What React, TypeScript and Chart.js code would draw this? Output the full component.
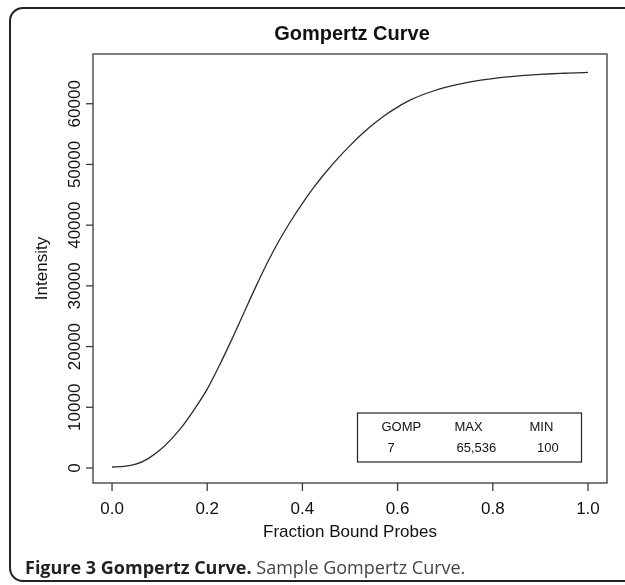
import React, { useEffect, useRef } from "react";
import { Chart, registerables } from "chart.js";

Chart.register(...registerables);

// ---- data ----
const fractionBound = [
  0, 0.025, 0.05, 0.075, 0.1, 0.125, 0.15, 0.175, 0.2, 0.225,
  0.25, 0.275, 0.3, 0.325, 0.35, 0.375, 0.4, 0.425, 0.45, 0.475,
  0.5, 0.525, 0.55, 0.575, 0.6, 0.625, 0.65, 0.675, 0.7, 0.725,
  0.75, 0.775, 0.8, 0.825, 0.85, 0.875, 0.9, 0.925, 0.95, 0.975, 1.0,
];
const intensity = [
  160, 250, 620, 1500, 2900, 4800, 7100, 9900, 13000, 16800,
  20900, 25200, 29500, 33600, 37300, 40600, 43600, 46350, 48800, 51050,
  53100, 55000, 56700, 58200, 59450, 60550, 61400, 62100, 62680, 63150,
  63550, 63880, 64150, 64370, 64560, 64710, 64840, 64940, 65020, 65100, 65160,
];
const xTicks = [0, 0.2, 0.4, 0.6, 0.8, 1.0];
const xTickLabels = ["0.0", "0.2", "0.4", "0.6", "0.8", "1.0"];
const yTicks = [0, 10000, 20000, 30000, 40000, 50000, 60000];
const yTickLabels = ["0", "10000", "20000", "30000", "40000", "50000", "60000"];
const legendHeaders = ["GOMP", "MAX", "MIN"];
const legendValues = ["7", "65,536", "100"];

const chartTitle = "Gompertz Curve";
const xTitle = "Fraction Bound Probes";
const yTitle = "Intensity";

const FONT = '"Liberation Sans", Arial, Helvetica, sans-serif';

const framePlugin = {
  id: "rframe",
  afterDraw(chart: any) {
    const { ctx, chartArea: a, scales } = chart;
    const xs = scales.x;
    const ys = scales.y;
    ctx.save();
    // plot box
    ctx.strokeStyle = "#3a3a3a";
    ctx.lineWidth = 1.3;
    ctx.strokeRect(a.left, a.top, a.right - a.left, a.bottom - a.top);

    ctx.fillStyle = "#111";
    ctx.font = `17px ${FONT}`;
    // y axis ticks + rotated labels
    yTicks.forEach((v, i) => {
      const py = ys.getPixelForValue(v);
      ctx.beginPath();
      ctx.moveTo(a.left - 7, py);
      ctx.lineTo(a.left, py);
      ctx.stroke();
      ctx.save();
      ctx.translate(80, py);
      ctx.rotate(-Math.PI / 2);
      ctx.textAlign = "center";
      ctx.textBaseline = "alphabetic";
      ctx.fillText(yTickLabels[i], 0, 0);
      ctx.restore();
    });
    // x axis ticks + labels
    xTicks.forEach((v, i) => {
      const px = xs.getPixelForValue(v);
      ctx.beginPath();
      ctx.moveTo(px, a.bottom);
      ctx.lineTo(px, a.bottom + 8);
      ctx.stroke();
      ctx.textAlign = "center";
      ctx.textBaseline = "alphabetic";
      ctx.fillText(xTickLabels[i], px, 514);
    });
    // axis titles
    ctx.textAlign = "center";
    ctx.fillText(xTitle, (a.left + a.right) / 2, 537);
    ctx.save();
    ctx.translate(47, (a.top + a.bottom) / 2);
    ctx.rotate(-Math.PI / 2);
    ctx.fillText(yTitle, 0, 0);
    ctx.restore();
    // main title
    ctx.font = `bold 20px ${FONT}`;
    ctx.fillText(chartTitle, (a.left + a.right) / 2 + 2, 40);

    // legend box
    const lr = a.right - 25.5;
    const lb = a.bottom - 21;
    const ll = lr - 224;
    const lt = lb - 49;
    ctx.strokeStyle = "#222";
    ctx.lineWidth = 1.2;
    ctx.strokeRect(ll, lt, lr - ll, lb - lt);
    ctx.font = `13px ${FONT}`;
    ctx.textAlign = "left";
    const hx = [ll + 24, ll + 97, ll + 172];
    const vx = [ll + 30, ll + 99, ll + 179.5];
    legendHeaders.forEach((t, i) => ctx.fillText(t, hx[i], lt + 17.5));
    legendValues.forEach((t, i) => ctx.fillText(t, vx[i], lt + 38.5));
    ctx.restore();
  },
};

export default function App() {
  const ref = useRef<HTMLCanvasElement | null>(null);
  useEffect(() => {
    document.body.style.margin = "0";
    const canvas = ref.current!;
    const chart = new Chart(canvas, {
      type: "line",
      data: {
        datasets: [
          {
            data: fractionBound.map((x, i) => ({ x, y: intensity[i] })),
            borderColor: "#2b2b2b",
            borderWidth: 1.3,
            pointRadius: 0,
            fill: false,
            cubicInterpolationMode: "monotone",
          },
        ],
      },
      options: {
        animation: false,
        responsive: false,
        events: [],
        layout: { padding: { left: 93, top: 54, right: 18, bottom: 102 } },
        plugins: {
          legend: { display: false },
          title: { display: false },
          tooltip: { enabled: false },
        },
        scales: {
          x: { type: "linear", min: -0.04, max: 1.04, display: false },
          y: { type: "linear", min: -2475, max: 68195, display: false },
        },
      },
      plugins: [framePlugin],
    });
    return () => chart.destroy();
  }, []);

  return (
    <div
      style={{
        position: "relative",
        width: 625,
        height: 585,
        overflow: "hidden",
        background: "#fff",
      }}
    >
      <canvas
        ref={ref}
        width={625}
        height={585}
        style={{ position: "absolute", left: 0, top: 0, width: 625, height: 585 }}
      />
      <div
        style={{
          position: "absolute",
          left: 9,
          top: 7,
          width: 660,
          height: 575,
          border: "2px solid #222",
          borderRadius: 14,
          boxSizing: "border-box",
          pointerEvents: "none",
        }}
      />
      <div
        style={{
          position: "absolute",
          left: 25,
          top: 555,
          fontFamily: '"Open Sans", "Noto Sans", sans-serif',
          fontSize: 18,
          lineHeight: "24px",
          color: "#444",
          whiteSpace: "nowrap",
        }}
      >
        <span style={{ fontWeight: 700, color: "#231f20" }}>Figure 3 Gompertz Curve.</span>{" "}
        Sample Gompertz Curve.
      </div>
    </div>
  );
}
